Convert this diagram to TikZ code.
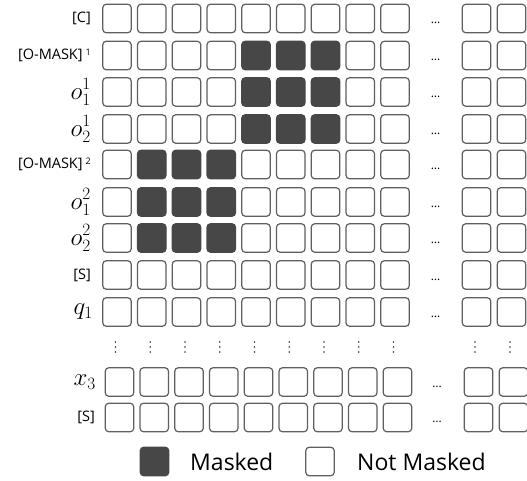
\documentclass[tikz,border=0pt]{standalone}
\usepackage{fontspec}
\setmainfont{Open Sans}
\definecolor{cellgray}{HTML}{5F5F5F}
\definecolor{maskgray}{HTML}{474747}
\begin{document}
\begin{tikzpicture}[x=1pt,y=-1pt,
  cell/.style={draw=cellgray, line width=1.2pt, rounded corners=3.5pt, minimum width=28.5pt, minimum height=28.5pt, inner sep=0pt, fill=white},
  masked/.style={cell, fill=maskgray, draw=maskgray},
  lab/.style={anchor=east, inner sep=0pt, font=\fontsize{14.5}{14.5}\selectfont},
  mlab/.style={anchor=east, inner sep=0pt, font=\fontsize{25}{25}\selectfont},
  hdots/.style={inner sep=0pt, font=\fontsize{12}{12}\selectfont},
  vdot/.style={fill=black!80, circle, inner sep=0pt, minimum size=1.7pt},
  legtext/.style={anchor=west, inner sep=0pt, font=\fontsize{23}{23}\selectfont}]
\useasboundingbox (0,0) rectangle (527,481);
% grid of cells, rows 1-9
\foreach \r/\y in {1/18.5,2/55.5,3/92,4/129,5/164.5,6/202,7/238,8/275,9/312}{
  \foreach \c in {1,...,9}{
    \def\st{cell}
    \ifnum\r>1 \ifnum\r<5 \ifnum\c>4 \ifnum\c<8 \def\st{masked}\fi\fi\fi\fi
    \ifnum\r>4 \ifnum\r<8 \ifnum\c>1 \ifnum\c<5 \def\st{masked}\fi\fi\fi\fi
    \node[\st] (c\r-\c) at ({117+(\c-1)*34.75},\y) {};
  }
  \node[cell] (c\r-10) at (476.5,\y) {};
  \node[cell] (c\r-11) at (511.5,\y) {};
  \node[hdots] (h\r) at (435.5,\y+4.5) {…};
}
% bottom rows
\foreach \r/\y in {10/382,11/417.5}{
  \foreach \c in {1,...,9}{
    \node[cell] (c\r-\c) at ({119.5+(\c-1)*34.75},\y) {};
  }
  \node[cell] (c\r-10) at (478.5,\y) {};
  \node[cell] (c\r-11) at (513.5,\y) {};
  \node[hdots] (h\r) at (437,\y+4.5) {…};
}
% vertical dots
\foreach \x [count=\i] in {115.5,150.25,185,219.75,254.5,289.25,324,358.75,393.5,475,510}{
  \node[vdot] (va\i) at (\x,342) {};
  \node[vdot] (vb\i) at (\x,347) {};
  \node[vdot] (vc\i) at (\x,352) {};
}
% row labels
\node[lab] (l1) at (91,18.5) {[C]};
\node[lab] (l2) at (91,55.5) {[O-MASK]\hspace{3pt}\raisebox{4.5pt}{\fontsize{9}{9}\selectfont 1}};
\node[mlab] (l3) at (91,92) {$o_1^1$};
\node[mlab] (l4) at (91,129) {$o_2^1$};
\node[lab] (l5) at (91,164.5) {[O-MASK]\hspace{3pt}\raisebox{4.5pt}{\fontsize{9}{9}\selectfont 2}};
\node[mlab] (l6) at (91,202) {$o_1^2$};
\node[mlab] (l7) at (91,238) {$o_2^2$};
\node[lab] (l8) at (91,275) {[S]};
\node[mlab] (l9) at (93,312) {$q_1$};
\node[mlab] (l10) at (96,382) {$x_3$};
\node[lab] (l11) at (95,417.5) {[S]};
% legend
\node[masked] (legm) at (154.5,461.5) {};
\node[legtext] (legmt) at (190,461.5) {Masked};
\node[cell] (legn) at (320,461.5) {};
\node[legtext] (legnt) at (357,461.5) {Not Masked};
\end{tikzpicture}
\end{document}
